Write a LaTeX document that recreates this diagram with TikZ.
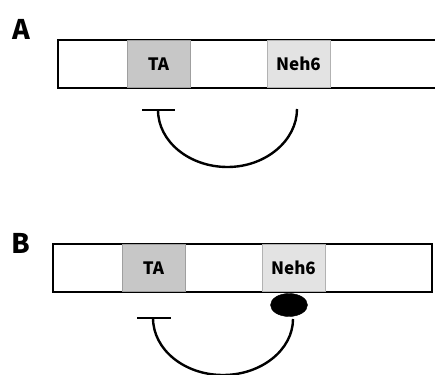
\documentclass[tikz,border=0pt]{standalone}
\usepackage{fontspec}
\usetikzlibrary{shapes.geometric}
\setmainfont{DejaVu Sans}
\newfontfamily\lblfont{Noto Sans CJK JP}
\begin{document}
\begin{tikzpicture}[x=1pt,y=-1pt,
  barbox/.style={draw=black,line width=2.8pt,fill=white,inner sep=0pt},
  tabox/.style={draw=gray!75,line width=0.8pt,fill=black!22,inner sep=0pt,minimum width=63pt,minimum height=47pt,font=\lblfont\bfseries\fontsize{17}{17}\selectfont},
  nehbox/.style={draw=gray!60,line width=0.8pt,fill=black!11,inner sep=0pt,minimum width=63pt,minimum height=47pt,font=\lblfont\bfseries\fontsize{17}{17}\selectfont},
  panel/.style={font=\lblfont\bfseries\fontsize{27}{27}\selectfont,inner sep=0pt},
  link/.style={line width=2.4pt},
  tbar/.style={line width=2.4pt}]
\useasboundingbox (0,0) rectangle (435,374);
\clip (0,0) rectangle (435,374);
% Panel A
\node[panel] (labA) at (21,29) {A};
\draw[barbox] (58,40) rectangle (440,88);
\node[tabox] (taA) at (158.5,64) {TA};
\node[nehbox] (nehA) at (298.5,64) {Neh6};
\coordinate (tlA) at (142,110);
\coordinate (trA) at (175,110);
\coordinate (tcA) at (158,110);
\coordinate (endA) at (297,109);
\draw[tbar] (tlA) -- (trA);
\draw[link] (tcA) .. controls (158,141.5) and (189.3,167) .. (227.5,167)
  .. controls (265.7,167) and (297,140.5) .. (endA);
% Panel B
\node[panel] (labB) at (21,243) {B};
\draw[barbox] (53,244) rectangle (432,292);
\node[tabox] (taB) at (153.5,268) {TA};
\node[nehbox] (nehB) at (293.5,268) {Neh6};
\node[draw=black,fill=black,ellipse,minimum width=37pt,minimum height=23pt,inner sep=0pt] (lig) at (289,305) {};
\coordinate (tlB) at (137,318);
\coordinate (trB) at (171,318);
\coordinate (tcB) at (153,318);
\coordinate (endB) at (293,319);
\draw[tbar] (tlB) -- (trB);
\draw[link] (tcB) .. controls (153,349.5) and (184.3,375) .. (223,375)
  .. controls (261.7,375) and (293,349.5) .. (endB);
\end{tikzpicture}
\end{document}
